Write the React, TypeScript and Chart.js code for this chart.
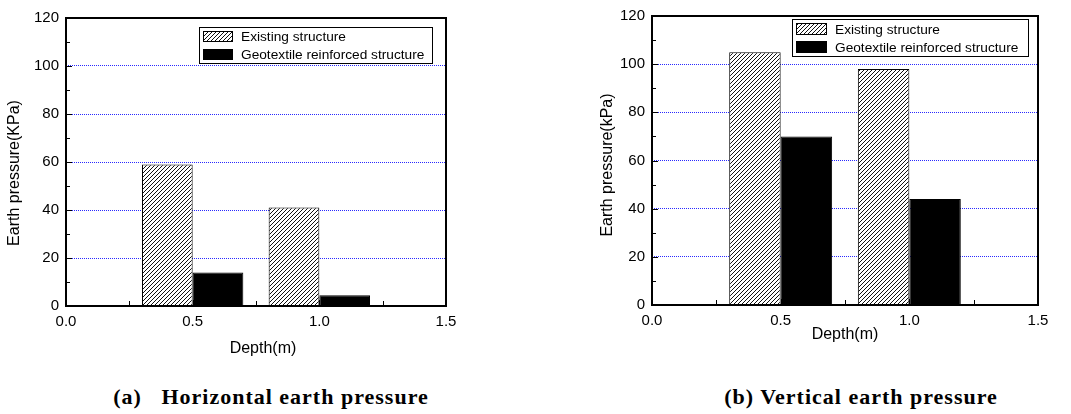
import React, { useEffect, useRef } from "react";
import { Chart, registerables } from "chart.js";

Chart.register(...registerables);

// ---------- data ----------
const depths = [0.5, 1.0];
const horizontalExisting = [59, 41];
const horizontalGeotextile = [14, 4.5];
const verticalExisting = [105, 98];
const verticalGeotextile = [70, 44];
const seriesLabels = ["Existing structure", "Geotextile reinforced structure"];
const yTitles = ["Earth pressure(KPa)", "Earth pressure(kPa)"];
const xTitle = "Depth(m)";
const captions = ["(a)   Horizontal earth pressure", "(b) Vertical earth pressure"];

const SANS = "Arial, 'Liberation Sans', sans-serif";

function makeHatch(): CanvasPattern | string {
  const c = document.createElement("canvas");
  const s = 4;
  c.width = s;
  c.height = s;
  const g = c.getContext("2d");
  if (!g) return "#fff";
  g.fillStyle = "#fff";
  g.fillRect(0, 0, s, s);
  g.strokeStyle = "#111";
  g.lineWidth = 1;
  g.beginPath();
  g.moveTo(-1, s + 1);
  g.lineTo(s + 1, -1);
  g.moveTo(-1, 1);
  g.lineTo(1, -1);
  g.moveTo(s - 1, s + 1);
  g.lineTo(s + 1, s - 1);
  g.stroke();
  return g.createPattern(c, "repeat") || "#fff";
}

const decoPlugin = {
  id: "panelDeco",
  afterDraw(chart: any, _args: any, opts: any) {
    const ctx: CanvasRenderingContext2D = chart.ctx;
    const xs = chart.scales.x;
    const ys = chart.scales.y;
    const left = Math.round(xs.getPixelForValue(0));
    const right = Math.round(xs.getPixelForValue(1.5));
    const top = Math.round(ys.getPixelForValue(120));
    const bottom = Math.round(ys.getPixelForValue(0));
    ctx.save();
    ctx.setLineDash([]);
    ctx.globalAlpha = 1;
    ctx.globalCompositeOperation = "source-over";
    ctx.fillStyle = "#000";
    // frame
    ctx.fillRect(left - 1, top - 1, 2, bottom - top + 2);
    ctx.fillRect(left - 1, top - 1, right - left + 2, 2);
    ctx.fillRect(right - 1, top - 1, 2, bottom - top + 2);
    ctx.fillRect(left - 1, bottom - 1, right - left + 2, 2);
    // inward ticks
    for (let k = 1; k < 12; k++) {
      const v = k * 10;
      const y = Math.round(ys.getPixelForValue(v));
      const len = k % 2 === 0 ? 6 : 4;
      ctx.fillRect(left, y, len, 1);
    }
    for (let k = 1; k < 6; k++) {
      const v = k * 0.25;
      const x = Math.round(xs.getPixelForValue(v));
      const len = k % 2 === 0 ? 6 : 5;
      ctx.fillRect(x, bottom - len, 1, len);
    }

    // legend
    const L = opts.legend;
    ctx.fillStyle = "#fff";
    ctx.fillRect(L.x, L.y, L.w, L.h);
    ctx.lineWidth = 1;
    ctx.strokeStyle = "#000";
    ctx.strokeRect(L.x + 0.5, L.y + 0.5, L.w, L.h);
    ctx.font = `${L.fs}px ${SANS}`;
    ctx.textAlign = "left";
    ctx.textBaseline = "middle";
    chart.data.datasets.forEach((ds: any, i: number) => {
      const ry = L.rows[i];
      ctx.fillStyle = ds.backgroundColor;
      ctx.fillRect(L.sx, ry - L.sh / 2, L.sw, L.sh);
      ctx.strokeStyle = "#000";
      ctx.strokeRect(L.sx + 0.5, ry - L.sh / 2 + 0.5, L.sw - 1, L.sh - 1);
      ctx.fillStyle = "#000";
      ctx.fillText(ds.label, L.tx, ry + 1);
    });

    // axis titles
    ctx.fillStyle = "#000";
    ctx.font = `16px ${SANS}`;
    ctx.textAlign = "center";
    ctx.textBaseline = "middle";
    ctx.fillText(opts.xTitle, opts.xTitleX, opts.xTitleY);
    ctx.translate(opts.yTitleX, opts.yTitleY);
    ctx.rotate(-Math.PI / 2);
    ctx.fillText(opts.yTitle, 0, 0);
    ctx.restore();
  },
};

type PanelCfg = {
  left: number;
  w: number;
  h: number;
  padTop: number;
  padRight: number;
  yw: number;
  xh: number;
  existing: number[];
  geotextile: number[];
  yTitle: string;
  yTitleX: number;
  yTitleY: number;
  xTitleX: number;
  xTitleY: number;
  legend: any;
};

const panels: PanelCfg[] = [
  {
    left: 0,
    w: 530,
    h: 370,
    padTop: 18,
    padRight: 84,
    yw: 66,
    xh: 64,
    existing: horizontalExisting,
    geotextile: horizontalGeotextile,
    yTitle: yTitles[0],
    yTitleX: 15,
    yTitleY: 173,
    xTitleX: 263,
    xTitleY: 349,
    legend: { x: 199, y: 27, w: 233, h: 36, sx: 203, sw: 30, sh: 11, rows: [36.5, 54.5], tx: 241, fs: 13.7 },
  },
  {
    left: 530,
    w: 541,
    h: 370,
    padTop: 11,
    padRight: 33,
    yw: 122,
    xh: 65,
    existing: verticalExisting,
    geotextile: verticalGeotextile,
    yTitle: yTitles[1],
    yTitleX: 78,
    yTitleY: 165,
    xTitleX: 315,
    xTitleY: 335,
    legend: { x: 262, y: 19, w: 236, h: 37, sx: 266, sw: 31, sh: 12, rows: [29, 47], tx: 305, fs: 13.7 },
  },
];

function makeConfig(p: PanelCfg, hatch: any): any {
  const tickFont = { family: SANS, size: 15 };
  return {
    type: "bar",
    data: {
      datasets: [
        {
          label: seriesLabels[0],
          data: depths.map((d, i) => ({ x: d, y: p.existing[i] })),
          backgroundColor: hatch,
          borderColor: "#000",
          borderWidth: 1,
          categoryPercentage: 0.8,
          barPercentage: 1,
        },
        {
          label: seriesLabels[1],
          data: depths.map((d, i) => ({ x: d, y: p.geotextile[i] })),
          backgroundColor: "#000",
          borderColor: "#000",
          borderWidth: 1,
          categoryPercentage: 0.8,
          barPercentage: 1,
        },
      ],
    },
    options: {
      animation: false,
      responsive: false,
      maintainAspectRatio: false,
      devicePixelRatio: 1,
      layout: { padding: { left: 0, top: p.padTop, right: p.padRight, bottom: 0 } },
      plugins: {
        legend: { display: false },
        tooltip: { enabled: false },
        panelDeco: {
          legend: p.legend,
          xTitle,
          xTitleX: p.xTitleX,
          xTitleY: p.xTitleY,
          yTitle: p.yTitle,
          yTitleX: p.yTitleX,
          yTitleY: p.yTitleY,
        },
      },
      scales: {
        x: {
          type: "linear",
          min: 0,
          max: 1.5,
          offset: false,
          grid: { display: false, drawTicks: false },
          border: { display: false },
          ticks: {
            stepSize: 0.5,
            autoSkip: false,
            maxRotation: 0,
            padding: 7,
            color: "#000",
            font: tickFont,
            callback: (v: any) => Number(v).toFixed(1),
          },
          afterFit: (s: any) => {
            s.height = p.xh;
          },
        },
        y: {
          type: "linear",
          min: 0,
          max: 120,
          grid: {
            drawTicks: false,
            lineWidth: 1,
            color: (c: any) =>
              c.tick && c.tick.value > 0 && c.tick.value < 120 ? "#2a2aff" : "rgba(0,0,0,0)",
          },
          border: { display: false, dash: [1, 1] },
          ticks: {
            stepSize: 20,
            padding: 7,
            color: "#000",
            font: tickFont,
          },
          afterFit: (s: any) => {
            s.width = p.yw;
          },
        },
      },
    },
    plugins: [decoPlugin],
  };
}

function Panel({ cfg }: { cfg: PanelCfg }) {
  const ref = useRef<HTMLCanvasElement>(null);
  useEffect(() => {
    if (!ref.current) return;
    const chart = new Chart(ref.current, makeConfig(cfg, makeHatch()));
    return () => chart.destroy();
  }, [cfg]);
  return (
    <canvas
      ref={ref}
      width={cfg.w}
      height={cfg.h}
      style={{ position: "absolute", left: cfg.left, top: 0, width: cfg.w, height: cfg.h }}
    />
  );
}

const captionStyle: React.CSSProperties = {
  position: "absolute",
  top: 386,
  font: "bold 22px 'Times New Roman', 'Liberation Serif', serif",
  lineHeight: "22px",
  letterSpacing: "1px",
  whiteSpace: "pre",
  color: "#000",
  transform: "translateX(-50%)",
};

export default function App() {
  return (
    <div
      style={{
        position: "absolute",
        left: 0,
        top: 0,
        width: 1071,
        height: 414,
        background: "#fff",
        overflow: "hidden",
      }}
    >
      {panels.map((p, i) => (
        <Panel key={i} cfg={p} />
      ))}
      <div style={{ ...captionStyle, left: 271 }}>{captions[0]}</div>
      <div style={{ ...captionStyle, left: 861 }}>{captions[1]}</div>
    </div>
  );
}
